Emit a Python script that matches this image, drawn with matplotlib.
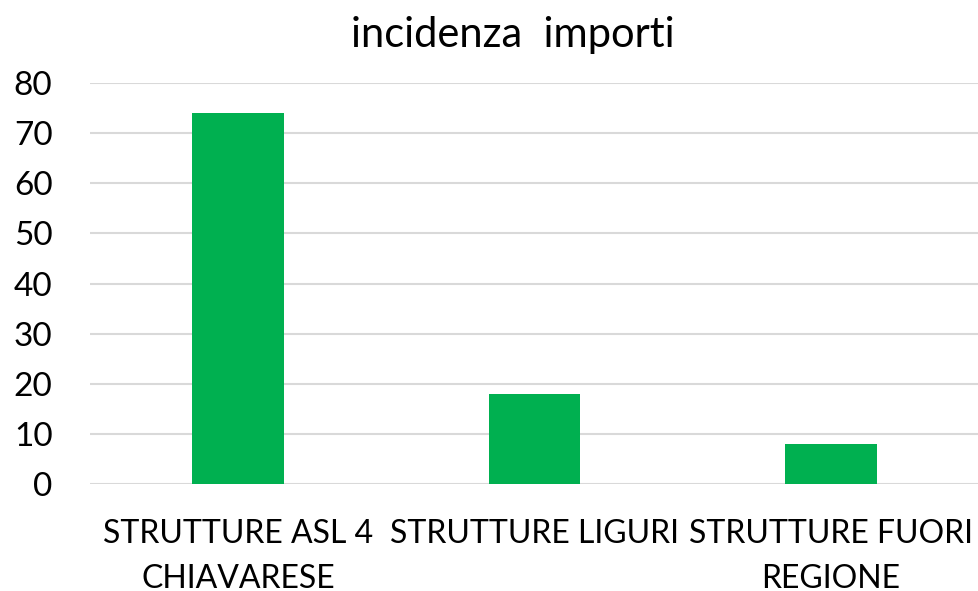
import matplotlib
matplotlib.use("Agg")
import matplotlib.pyplot as plt

categories = ["STRUTTURE ASL 4\nCHIAVARESE", "STRUTTURE LIGURI", "STRUTTURE FUORI\nREGIONE"]
values = [74, 18, 8]
yticks = [0, 10, 20, 30, 40, 50, 60, 70, 80]

W, H = 979, 591
fig = plt.figure(figsize=(W / 100, H / 100), dpi=100)
ax = fig.add_axes([90 / W, 107 / H, 889 / W, 401 / H])

font = "Lato"
ax.bar(range(len(values)), values, width=0.31, color="#00B050", zorder=2)
ax.set_xlim(-0.5, len(values) - 0.5)
ax.set_ylim(0, 80)
ax.set_yticks(yticks)
ax.set_xticks(range(len(values)))
ax.set_xticklabels(categories, fontsize=23, fontname=font, linespacing=1.62)
for lab in ax.get_yticklabels():
    lab.set_fontsize(24)
    lab.set_fontname(font)
ax.tick_params(axis="y", length=0, pad=27)
ax.tick_params(axis="x", length=0, pad=25)
ax.grid(axis="y", color="#D9D9D9", linewidth=1.5, zorder=0)
for s in ax.spines.values():
    s.set_visible(False)

fig.text(513 / W, 1 - 35 / H, "incidenza  importi", ha="center", va="center",
         fontsize=30, fontname=font)

fig.savefig("out.png", dpi=100)
